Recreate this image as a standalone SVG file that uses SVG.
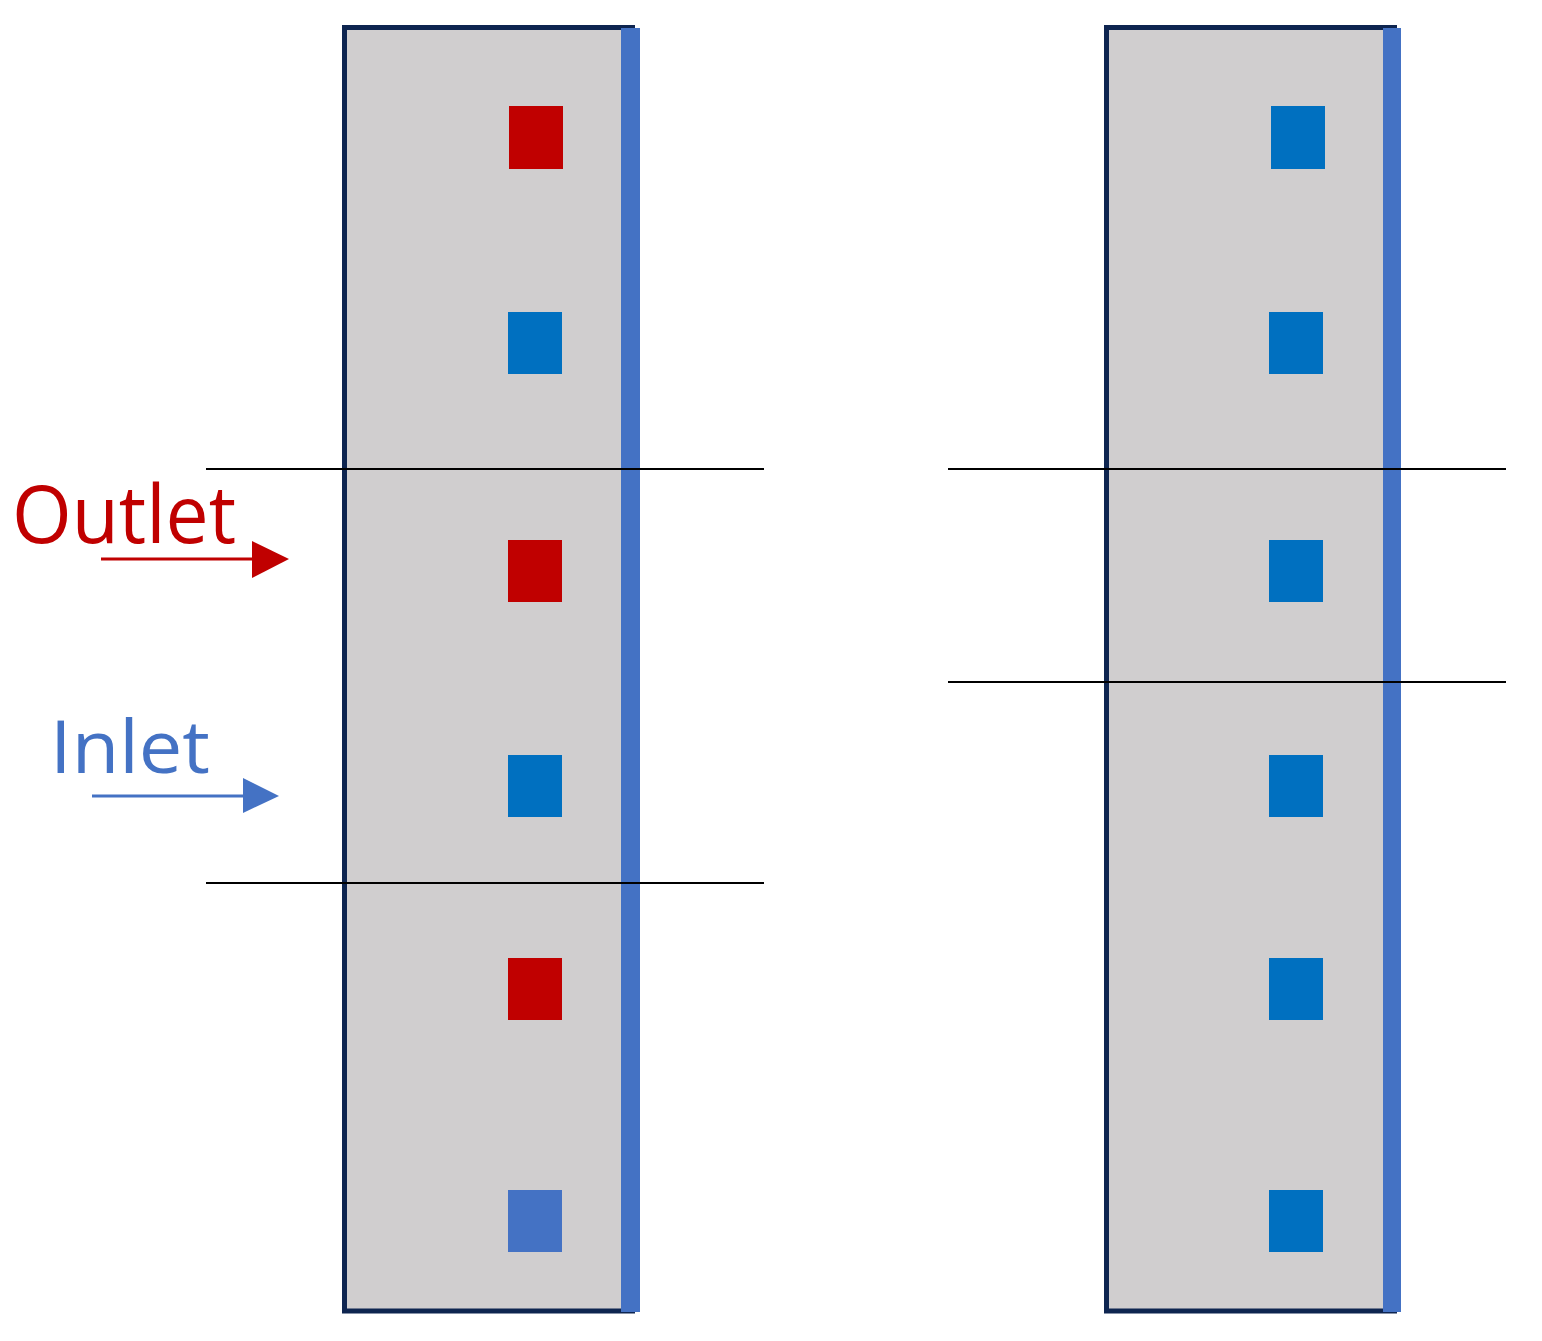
<svg xmlns="http://www.w3.org/2000/svg" width="1542" height="1341" viewBox="0 0 1542 1341">
<style>
.col{fill:#d0cecf;stroke:#0e2550;stroke-width:5}
.bar{fill:#4472c4}
.red{fill:#c00000}
.blu{fill:#0070c0}
.lblu{fill:#4472c4}
.cut{stroke:#000;stroke-width:2;fill:none}
.lbl{font-family:"Open Sans","Liberation Sans",sans-serif}
</style>
<g id="left-column">
<rect class="col" x="344.5" y="27.5" width="288" height="1283.5"/>
<rect class="bar" x="621" y="28" width="19" height="1284"/>
<rect class="red" x="509" y="106" width="54" height="63"/>
<rect class="blu" x="508" y="312" width="54" height="62"/>
<rect class="red" x="508" y="540" width="54" height="62"/>
<rect class="blu" x="508" y="755" width="54" height="62"/>
<rect class="red" x="508" y="958" width="54" height="62"/>
<rect class="lblu" x="508" y="1190" width="54" height="62"/>
</g>
<g id="right-column">
<rect class="col" x="1106.5" y="27.5" width="288" height="1283.5"/>
<rect class="bar" x="1383" y="28" width="18" height="1284"/>
<rect class="blu" x="1271" y="106" width="54" height="63"/>
<rect class="blu" x="1269" y="312" width="54" height="62"/>
<rect class="blu" x="1269" y="540" width="54" height="62"/>
<rect class="blu" x="1269" y="755" width="54" height="62"/>
<rect class="blu" x="1269" y="958" width="54" height="62"/>
<rect class="blu" x="1269" y="1190" width="54" height="62"/>
</g>
<g id="connectors">
<line class="cut" x1="206" y1="469" x2="764" y2="469"/>
<line class="cut" x1="206" y1="883" x2="764" y2="883"/>
<line class="cut" x1="948" y1="469" x2="1506" y2="469"/>
<line class="cut" x1="948" y1="682" x2="1506" y2="682"/>
<line x1="101" y1="559" x2="254" y2="559" stroke="#c00000" stroke-width="3"/>
<polygon points="252,541 289,559 252,578" fill="#c00000"/>
<line x1="92" y1="796" x2="245" y2="796" stroke="#4472c4" stroke-width="3"/>
<polygon points="243,778 279,796 243,813" fill="#4472c4"/>
</g>
<g id="outlet-label">
<text class="lbl" x="12" y="543" font-size="80" fill="#c00000" textLength="224" lengthAdjust="spacingAndGlyphs">Outlet</text>
</g>
<g id="inlet-label">
<text class="lbl" x="50" y="773" font-size="73" fill="#4472c4" textLength="160" lengthAdjust="spacingAndGlyphs">Inlet</text>
</g>
</svg>
